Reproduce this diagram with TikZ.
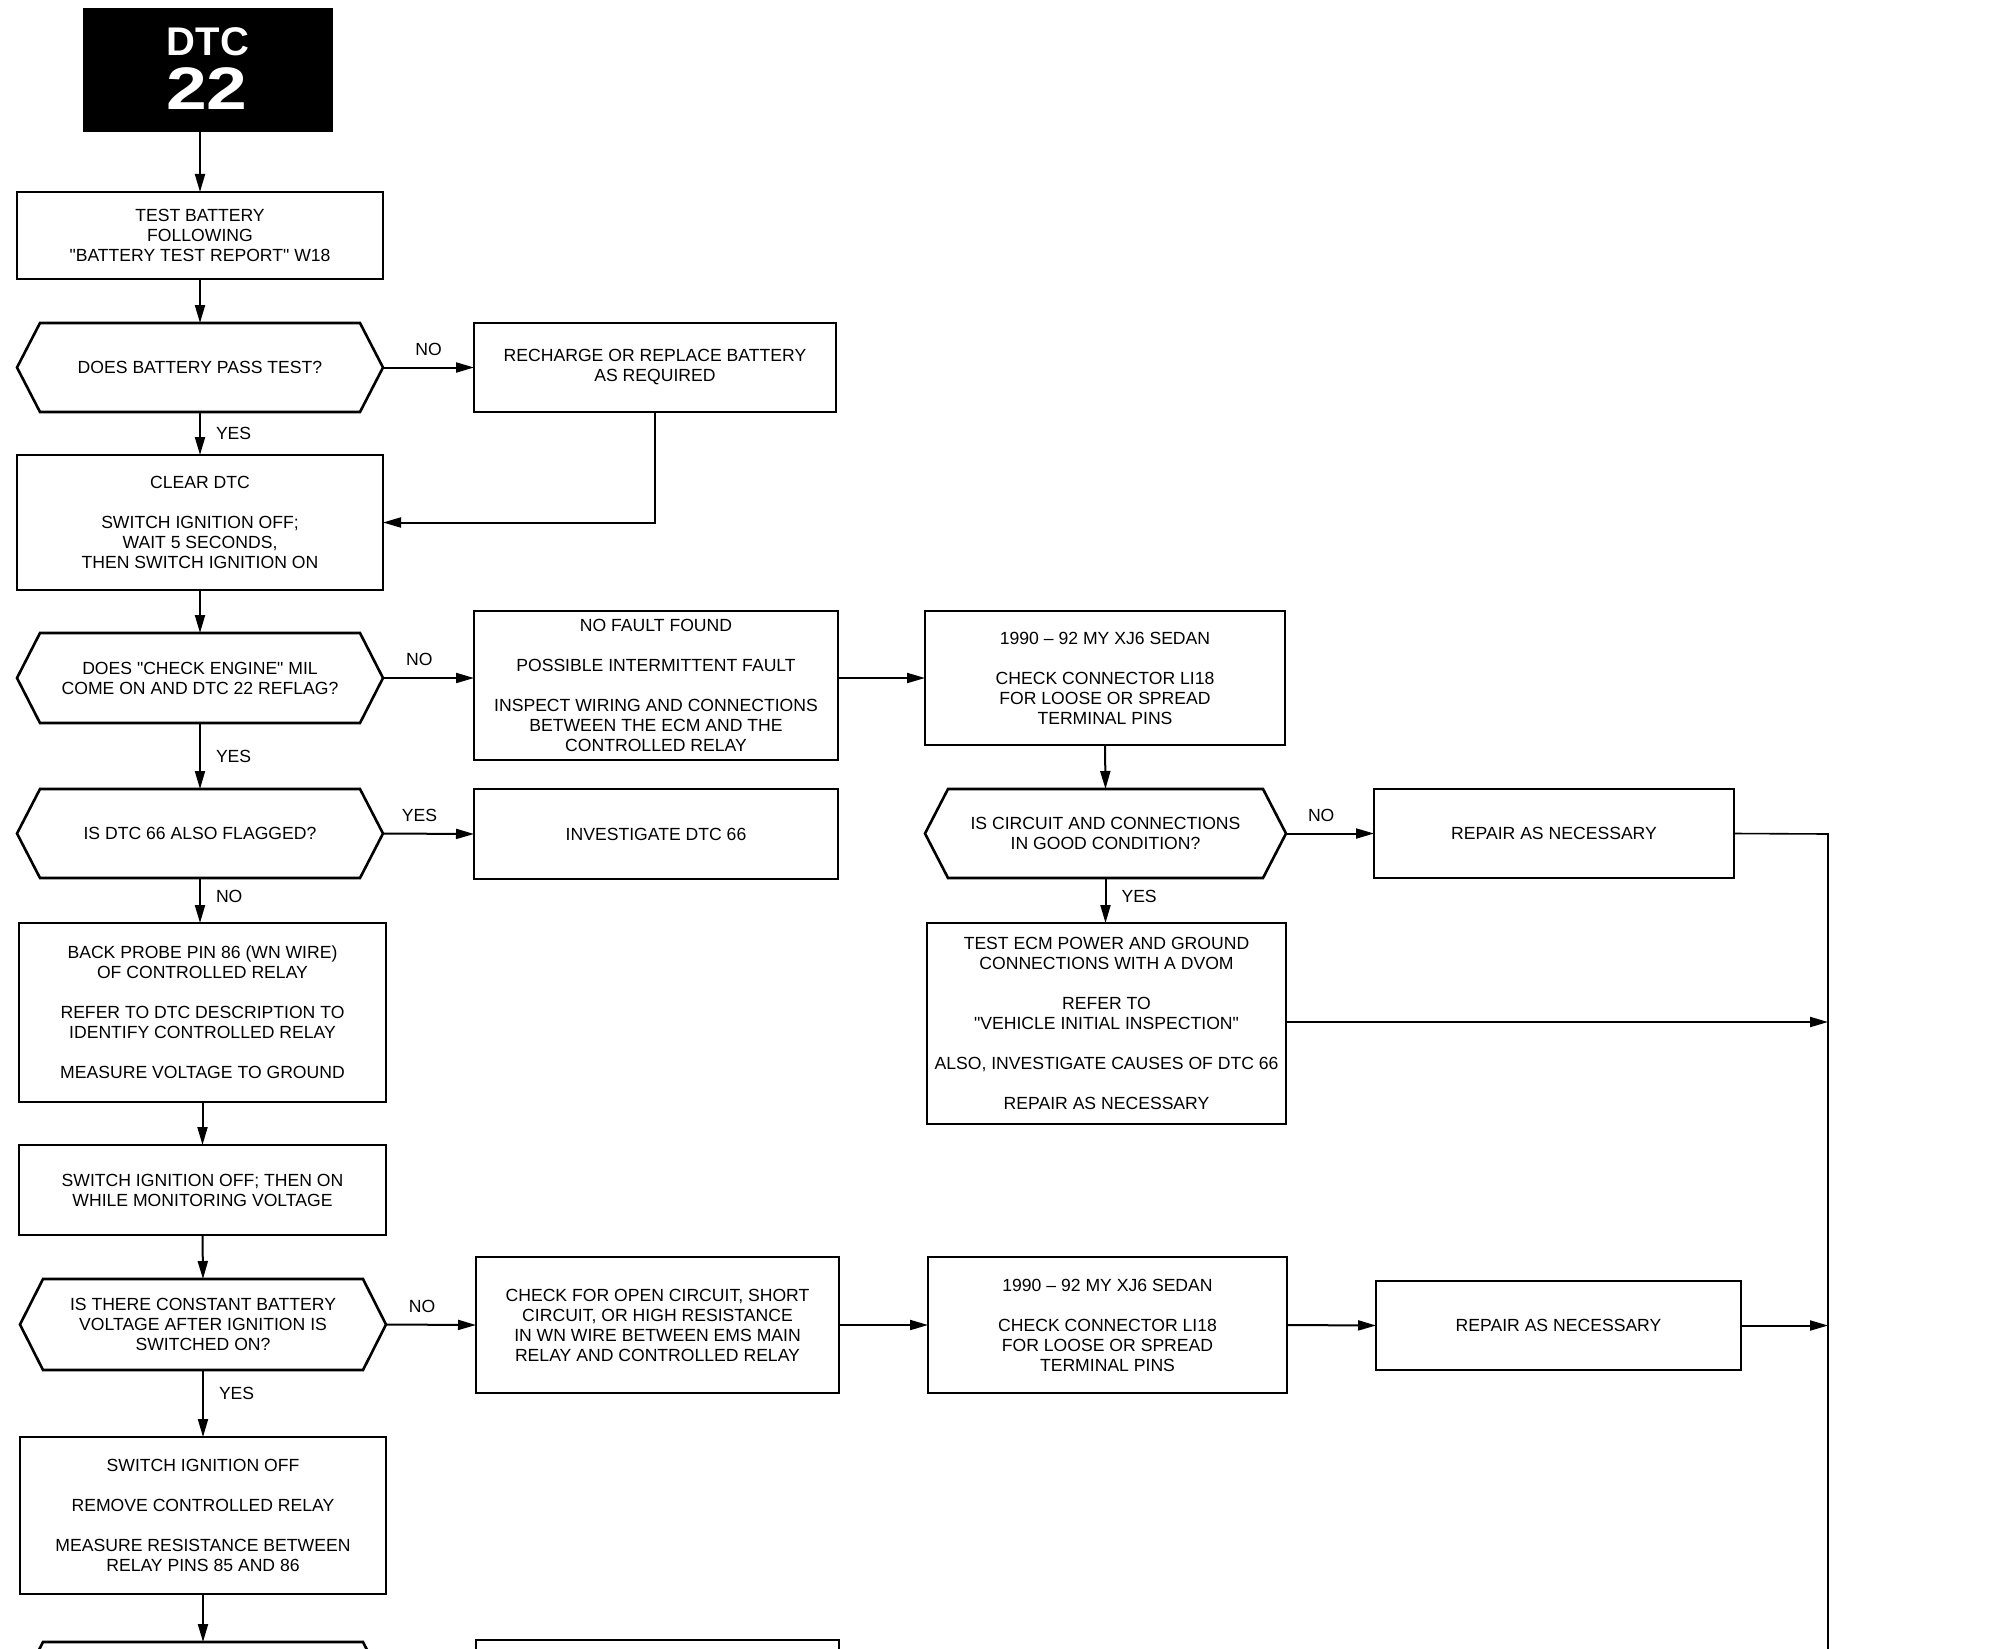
\documentclass[tikz,border=0pt]{standalone}
\usepackage{fontspec}
\usepackage{graphicx}
\setmainfont{Liberation Sans}
\usetikzlibrary{arrows.meta}
\newcommand\hexpath[1]{\draw[boxline] ([xshift=11.5pt]#1.north west) -- ([xshift=-11.5pt]#1.north east) -- (#1.east) -- ([xshift=-11.5pt]#1.south east) -- ([xshift=11.5pt]#1.south west) -- (#1.west) -- cycle;}
\newcommand\qq{\textquotedbl}
\begin{document}
\begin{tikzpicture}[x=0.5pt,y=-0.5pt,
  every node/.style={outer sep=0pt},
  boxline/.style={line width=1.3pt, line join=miter},
  txt/.style={align=center, inner sep=1pt, font=\fontsize{8.8}{10}\selectfont},
  box/.style={txt, draw, line width=1.3pt},
  hexbox/.style={txt},
  arr/.style={line width=1pt, -{Triangle[length=9pt,width=5pt]}},
  lbl/.style={inner sep=1pt, font=\fontsize{8.8}{10}\selectfont},
  bus/.style={line width=0.8pt}
]
\fill[white] (0,0) rectangle (2016,1648);
\clip (0,0) rectangle (2016,1648);

% title block
\node[fill=black, minimum width=125pt, minimum height=62pt] (dtc) at (208,70) {};
\node[anchor=base, text=white, inner sep=0pt, font=\fontsize{20}{20}\selectfont\bfseries] (dtcA) at (208,56) {DTC};
\node[anchor=base, text=white, inner sep=0pt, font=\fontsize{30}{30}\selectfont\bfseries] (dtcB) at (207,110) {\scalebox{1.22}[1]{22}};

% left column
\node[box, minimum width=183pt, minimum height=43.5pt] (tb) at (200,235.5) {TEST BATTERY\\FOLLOWING\\\qq BATTERY TEST REPORT\qq{} W18};
\node[hexbox, minimum width=183pt, minimum height=44.5pt] (h1) at (200,367.5) {DOES BATTERY PASS TEST?};
\hexpath{h1}
\node[box, minimum width=181pt, minimum height=44.5pt] (rech) at (655,367.5) {RECHARGE OR REPLACE BATTERY\\AS REQUIRED};
\node[box, minimum width=183pt, minimum height=67.5pt] (clr) at (200,522.5) {CLEAR DTC\\[10pt]SWITCH IGNITION OFF;\\WAIT 5 SECONDS,\\THEN SWITCH IGNITION ON};
\node[hexbox, minimum width=183pt, minimum height=45pt] (h2) at (200,678) {DOES \qq CHECK ENGINE\qq{} MIL\\COME ON AND DTC 22 REFLAG?};
\hexpath{h2}
\node[box, minimum width=182pt, minimum height=74.5pt] (nff) at (656,685.5) {NO FAULT FOUND\\[10pt]POSSIBLE INTERMITTENT FAULT\\[10pt]INSPECT WIRING AND CONNECTIONS\\BETWEEN THE ECM AND THE\\CONTROLLED RELAY};
\node[box, minimum width=180pt, minimum height=67pt] (xj1) at (1105,678) {1990 – 92 MY XJ6 SEDAN\\[10pt]CHECK CONNECTOR LI18\\FOR LOOSE OR SPREAD\\TERMINAL PINS};
\node[hexbox, minimum width=183pt, minimum height=44.5pt] (h3) at (200,833.5) {IS DTC 66 ALSO FLAGGED?};
\hexpath{h3}
\node[box, minimum width=182pt, minimum height=45pt] (inv) at (656,834) {INVESTIGATE DTC 66};
\node[hexbox, minimum width=180.5pt, minimum height=44.5pt] (h4) at (1105.5,833.5) {IS CIRCUIT AND CONNECTIONS\\IN GOOD CONDITION?};
\hexpath{h4}
\node[box, minimum width=180pt, minimum height=44.5pt] (rep1) at (1554,833.5) {REPAIR AS NECESSARY};
\node[box, minimum width=183.5pt, minimum height=89.5pt] (bp) at (202.5,1012.5) {BACK PROBE PIN 86 (WN WIRE)\\OF CONTROLLED RELAY\\[10pt]REFER TO DTC DESCRIPTION TO\\IDENTIFY CONTROLLED RELAY\\[10pt]MEASURE VOLTAGE TO GROUND};
\node[box, minimum width=179.5pt, minimum height=100.5pt] (ecm) at (1106.5,1023.5) {TEST ECM POWER AND GROUND\\CONNECTIONS WITH A DVOM\\[10pt]REFER TO\\\qq VEHICLE INITIAL INSPECTION\qq\\[10pt]ALSO, INVESTIGATE CAUSES OF DTC 66\\[10pt]REPAIR AS NECESSARY};
\node[box, minimum width=183.5pt, minimum height=45pt] (sw) at (202.5,1190) {SWITCH IGNITION OFF; THEN ON\\WHILE MONITORING VOLTAGE};
\node[hexbox, minimum width=183pt, minimum height=45.5pt] (h5) at (203,1324.5) {IS THERE CONSTANT BATTERY\\VOLTAGE AFTER IGNITION IS\\SWITCHED ON?};
\hexpath{h5}
\node[box, minimum width=181.5pt, minimum height=68pt] (chk) at (657.5,1325) {CHECK FOR OPEN CIRCUIT, SHORT\\CIRCUIT, OR HIGH RESISTANCE\\IN WN WIRE BETWEEN EMS MAIN\\RELAY AND CONTROLLED RELAY};
\node[box, minimum width=179.5pt, minimum height=68pt] (xj2) at (1107.5,1325) {1990 – 92 MY XJ6 SEDAN\\[10pt]CHECK CONNECTOR LI18\\FOR LOOSE OR SPREAD\\TERMINAL PINS};
\node[box, minimum width=182.5pt, minimum height=44.5pt] (rep2) at (1558.5,1325.5) {REPAIR AS NECESSARY};
\node[box, minimum width=183pt, minimum height=78.5pt] (so) at (203,1515.5) {SWITCH IGNITION OFF\\[10pt]REMOVE CONTROLLED RELAY\\[10pt]MEASURE RESISTANCE BETWEEN\\RELAY PINS 85 AND 86};
% partially visible shapes at the bottom edge
\node[hexbox, minimum width=183pt, minimum height=45pt] (h6) at (203,1687) {};
\hexpath{h6}
\node[box, minimum width=181.5pt, minimum height=60pt] (bx) at (657.5,1700) {};

\coordinate (bus) at (1828,834);
\coordinate (busend) at (1828,1660);

% connectors
\draw[arr] (tb.north |- dtc.south) -- (tb.north);
\draw[arr] (tb.south) -- (h1.north);
\draw[arr] (h1.east) -- node[lbl, above=5pt] (l1) {NO} (rech.west);
\draw[arr] (h1.south) -- node[lbl, right=7pt] (l2) {YES} (clr.north);
\draw[arr] (rech.south) |- (clr.east);
\draw[arr] (clr.south) -- (h2.north);
\draw[arr] (h2.east) -- node[lbl, above=5pt, pos=0.4] (l3) {NO} (h2.east -| nff.west);
\draw[arr] (nff.east |- xj1.west) -- (xj1.west);
\draw[arr] (h2.south) -- node[lbl, right=7pt] (l4) {YES} (h3.north);
\draw[arr] (h3.east) -- node[lbl, above=5pt, pos=0.4] (l5) {YES} (inv.west);
\draw[arr] (h3.south) -- node[lbl, right=7pt, pos=0.4] (l6) {NO} (h3.south |- bp.north);
\draw[arr] (xj1.south) -- (h4.north);
\draw[arr] (h4.east) -- node[lbl, above=5pt, pos=0.4] (l7) {NO} (rep1.west);
\draw[arr] (h4.south) -- node[lbl, right=7pt, pos=0.4] (l8) {YES} (h4.south |- ecm.north);
\draw[bus] (rep1.east) -- (bus) -- (busend);
\draw[arr] (ecm.east |- 0,1022) -- (bus |- 0,1022);
\draw[arr] (bp.south) -- (sw.north);
\draw[arr] (sw.south) -- (h5.north);
\draw[arr] (h5.east) -- node[lbl, above=5pt, pos=0.4] (l9) {NO} (chk.west);
\draw[arr] (chk.east) -- (xj2.west);
\draw[arr] (xj2.east) -- (rep2.west);
\draw[arr] (rep2.east) -- (rep2.east -| bus);
\draw[arr] (h5.south) -- node[lbl, right=7pt, pos=0.35] (l10) {YES} (so.north);
\draw[arr] (so.south) -- (h6.north);
\end{tikzpicture}
\end{document}
